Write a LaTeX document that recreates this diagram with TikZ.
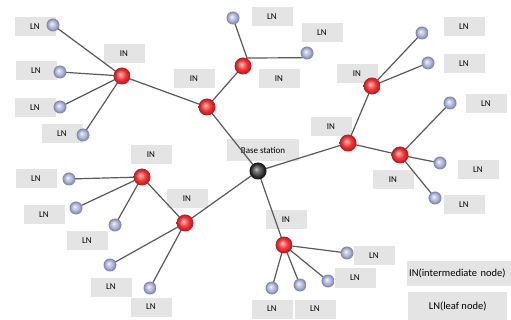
\documentclass[tikz,border=0pt]{standalone}
\usepackage{fontspec}
\setmainfont{Carlito}
\pgfdeclarelayer{bg}
\pgfdeclarelayer{lines}
\pgfsetlayers{bg,lines,main}
\definecolor{leafc}{RGB}{178,184,218}
\definecolor{leafd}{RGB}{130,136,178}
\definecolor{inc}{RGB}{245,60,60}
\definecolor{ind}{RGB}{190,30,35}
\definecolor{boxc}{RGB}{228,228,228}
\pgfdeclareradialshading{inball}{\pgfpoint{-6bp}{6bp}}{color(0bp)=(red!15!white); color(5bp)=(red!45!white); color(13bp)=(inc); color(22bp)=(ind); color(30bp)=(ind)}
\pgfdeclareradialshading{leafball}{\pgfpoint{-6bp}{6bp}}{color(0bp)=(white); color(6bp)=(leafc!60!white); color(14bp)=(leafc); color(22bp)=(leafd); color(30bp)=(leafd)}
\pgfdeclareradialshading{baseball}{\pgfpoint{-6bp}{6bp}}{color(0bp)=(black!25); color(8bp)=(black!55); color(22bp)=(black!90); color(30bp)=(black)}
\begin{document}
\begin{tikzpicture}[x=1pt,y=-1pt,
  lbl/.style={fill=boxc, minimum width=41pt, minimum height=19pt, inner sep=1pt, font=\fontsize{9}{10}\selectfont},
  innode/.style={circle, shading=inball, minimum size=17pt, inner sep=0pt},
  leafnode/.style={circle, shading=leafball, minimum size=13pt, inner sep=0pt},
  basenode/.style={circle, shading=baseball, minimum size=17pt, inner sep=0pt},
  link/.style={draw=black!65, line width=1.2pt}]
\useasboundingbox (0,0) rectangle (511,320);

% label boxes
\begin{pgfonlayer}{bg}
\fill[white] (0,0) rectangle (511,320);
\node[lbl] (t1) at (35,27) {LN};
\node[lbl] (t2) at (36,71) {LN};
\node[lbl] (t3) at (35,108) {LN};
\node[lbl] (t4) at (62,134) {LN};
\node[lbl] (t5) at (124,54) {IN};
\node[lbl] (t6) at (194,79) {IN};
\node[lbl] (t7) at (279,79) {IN};
\node[lbl] (t8) at (272,17) {LN};
\node[lbl] (t9) at (322,33) {LN};
\node[lbl] (t10) at (357,74) {IN};
\node[lbl] (t11) at (464,27) {LN};
\node[lbl] (t12) at (464,64) {LN};
\node[lbl] (t13) at (331,127) {IN};
\node[lbl] (t14) at (393,180) {IN};
\node[lbl] (t15) at (486,104) {LN};
\node[lbl] (t16) at (478,170) {LN};
\node[lbl] (t17) at (464,205) {LN};
\node[lbl, minimum width=72pt, minimum height=22pt] (t18) at (263,150) {Base station};
\node[lbl] (t19) at (151,155) {IN};
\node[lbl] (t20) at (36,179) {LN};
\node[lbl] (t21) at (44,215) {LN};
\node[lbl] (t22) at (87,241) {LN};
\node[lbl] (t23) at (187,199) {IN};
\node[lbl] (t24) at (111,287) {LN};
\node[lbl] (t25) at (151,307) {LN};
\node[lbl] (t26) at (286,220) {IN};
\node[lbl] (t27) at (374,256) {LN};
\node[lbl] (t28) at (355,278) {LN};
\node[lbl] (t29) at (315,309) {LN};
\node[lbl] (t30) at (272,309) {LN};
\node[lbl, anchor=west, minimum height=24pt, inner xsep=2pt, text width=112pt, align=left, font=\fontsize{10.5}{12}\selectfont] (leg1) at (407,273.5) {IN(intermediate node)};
\node[lbl, anchor=west, minimum height=28pt, minimum width=99pt, align=center, font=\fontsize{10.5}{12}\selectfont] (leg2) at (408,306) {LN(leaf node)};
\end{pgfonlayer}

% balls
\node[basenode] (b) at (258,171) {};
\node[innode] (i1) at (122,76) {};
\node[innode] (i2) at (207,107) {};
\node[innode] (i3) at (243,66) {};
\node[innode] (i4) at (372,86) {};
\node[innode] (i5) at (348,143) {};
\node[innode] (i6) at (400,155) {};
\node[innode] (i7) at (142,177) {};
\node[innode] (i8) at (185,223) {};
\node[innode] (i9) at (284,245) {};
\coordinate (i3j) at (247,58);

\node[leafnode] (l1) at (53,25) {};
\node[leafnode] (l2) at (60,72) {};
\node[leafnode] (l3) at (60,107) {};
\node[leafnode] (l4) at (83,135) {};
\node[leafnode] (l5) at (233,18) {};
\node[leafnode] (l6) at (307,53) {};
\node[leafnode] (l7) at (422,33) {};
\node[leafnode] (l8) at (428,63) {};
\node[leafnode] (l9) at (450,103) {};
\node[leafnode] (l10) at (440,163) {};
\node[leafnode] (l11) at (435,198) {};
\node[leafnode] (l12) at (69,179) {};
\node[leafnode] (l13) at (76,208) {};
\node[leafnode] (l14) at (115,225) {};
\node[leafnode] (l15) at (110,265) {};
\node[leafnode] (l16) at (150,288) {};
\node[leafnode] (l17) at (347,253) {};
\node[leafnode] (l18) at (328,281) {};
\node[leafnode] (l19) at (300,285) {};
\node[leafnode] (l20) at (272,288) {};

% connectors
\begin{pgfonlayer}{lines}
\foreach \a/\c in {i1/l1,i1/l2,i1/l3,i1/l4,i1/i2,i2/i3,i2/b,
  b/i5,i5/i4,i4/l7,i4/l8,i5/i6,i6/l9,i6/l10,i6/l11,
  b/i8,i8/i7,i7/l12,i7/l13,i7/l14,i8/l15,i8/l16,
  b/i9,i9/l17,i9/l18,i9/l19,i9/l20}
  \draw[link] (\a.center) -- (\c.center);
\draw[link] (i3.center) -- (i3j) -- (l5.center);
\draw[link] (i3j) -- (l6.south west);
\end{pgfonlayer}
\end{tikzpicture}
\end{document}
